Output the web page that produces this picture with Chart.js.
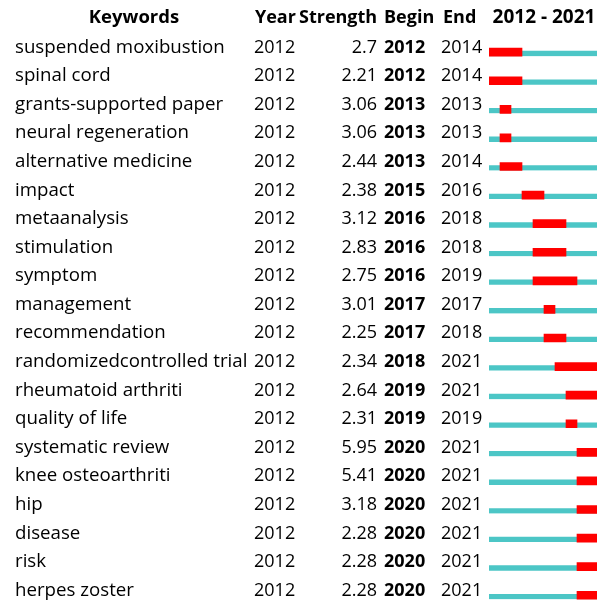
<!DOCTYPE html>
<html>
<head>
<meta charset="utf-8">
<script src="https://cdn.jsdelivr.net/npm/chart.js@4/dist/chart.umd.min.js"></script>
<style>
    html, body { margin: 0; padding: 0; background: #fff; overflow: hidden; }
    #wrap { position: relative; width: 600px; height: 610px; }
</style>
</head>
<body>
<div id="wrap"><canvas id="burst"></canvas></div>
<script>
const keywords = [
    'suspended moxibustion', 'spinal cord', 'grants-supported paper', 'neural regeneration',
    'alternative medicine', 'impact', 'metaanalysis', 'stimulation', 'symptom', 'management',
    'recommendation', 'randomizedcontrolled trial', 'rheumatoid arthriti', 'quality of life',
    'systematic review', 'knee osteoarthriti', 'hip', 'disease', 'risk', 'herpes zoster'
];
const years = [2012, 2012, 2012, 2012, 2012, 2012, 2012, 2012, 2012, 2012,
    2012, 2012, 2012, 2012, 2012, 2012, 2012, 2012, 2012, 2012];
const strengths = [2.7, 2.21, 3.06, 3.06, 2.44, 2.38, 3.12, 2.83, 2.75, 3.01,
    2.25, 2.34, 2.64, 2.31, 5.95, 5.41, 3.18, 2.28, 2.28, 2.28];
const begins = [2012, 2012, 2013, 2013, 2013, 2015, 2016, 2016, 2016, 2017,
    2017, 2018, 2019, 2019, 2020, 2020, 2020, 2020, 2020, 2020];
const ends = [2014, 2014, 2013, 2013, 2014, 2016, 2018, 2018, 2019, 2017,
    2018, 2021, 2021, 2019, 2021, 2021, 2021, 2021, 2021, 2021];
const rangeStart = 2012;
const rangeEnd = 2021;
const headers = ['Keywords', 'Year', 'Strength', 'Begin', 'End'];

const FONT = '"Open Sans", "Noto Sans", sans-serif';

// table text left of the bars
const tablePlugin = {
    id: 'burstTable',
    afterDraw(chart) {
        const ctx = chart.ctx;
        const yScale = chart.scales.y;
        const area = chart.chartArea;
        ctx.save();
        ctx.fillStyle = '#000';
        ctx.textBaseline = 'alphabetic';

        // header
        const hy = 23;
        ctx.font = 'bold 18.5px ' + FONT;
        ctx.textAlign = 'center';
        ctx.fillText(headers[0], 134, hy);
        ctx.font = 'bold 18px ' + FONT;
        ctx.textAlign = 'left';
        ctx.fillText(headers[1], 255, hy);
        ctx.fillText(headers[2], 299, hy);
        ctx.fillText(headers[3], 384, hy);
        ctx.fillText(headers[4], 443, hy);
        ctx.font = 'bold 19px ' + FONT;
        ctx.textAlign = 'center';
        ctx.fillText(rangeStart + ' - ' + rangeEnd, (area.left + area.right) / 2, hy);

        keywords.forEach((kw, i) => {
            const y = yScale.getPixelForValue(i) + 0.5;
            ctx.font = '18.7px ' + FONT;
            ctx.textAlign = 'left';
            ctx.fillText(kw, 15, y);
            ctx.font = '18px ' + FONT;
            ctx.fillText(String(years[i]), 254, y);
            ctx.textAlign = 'right';
            ctx.fillText(String(strengths[i]), 377, y);
            ctx.textAlign = 'left';
            ctx.font = 'bold 18px ' + FONT;
            ctx.fillText(String(begins[i]), 384, y);
            ctx.font = '18px ' + FONT;
            ctx.fillText(String(ends[i]), 441, y);
        });
        ctx.restore();
    }
};

const ctx = document.getElementById('burst').getContext('2d');
// Chart.js paints the first dataset last, so the red bursts go first
const chart = new Chart(ctx, {
    type: 'bar',
    data: {
        labels: keywords,
        datasets: [{
            data: begins.map((b, i) => [b, ends[i] + 1]),
            backgroundColor: '#FF0000',
            borderWidth: 0,
            barThickness: 8,
            grouped: false
        }, {
            data: keywords.map(() => [rangeStart, rangeEnd + 1]),
            backgroundColor: '#4CC6C6',
            borderColor: '#ffffff',
            borderWidth: { top: 3, right: 0, bottom: 0, left: 0 },
            borderSkipped: false,
            barThickness: 8,
            grouped: false
        }]
    },
    options: {
        indexAxis: 'y',
        responsive: true,
        maintainAspectRatio: false,
        animation: false,
        layout: {
            padding: { left: 489, right: 1, top: 37.9, bottom: 0.5 }
        },
        scales: {
            x: { type: 'linear', min: rangeStart, max: rangeEnd + 1, display: false },
            y: { type: 'category', display: false, offset: true }
        },
        plugins: {
            legend: { display: false },
            tooltip: { enabled: false }
        }
    },
    plugins: [tablePlugin]
});
</script>
</body>
</html>
